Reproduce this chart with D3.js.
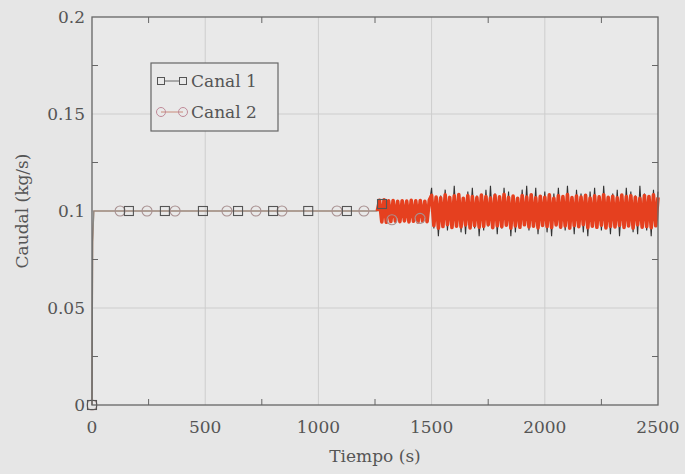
<!DOCTYPE html>
<html lang="es">
  <head>
    <meta charset="utf-8">
    <title>Caudal por canal</title>
    <script type="text/javascript" src="https://d3js.org/d3.v7.min.js"></script>
    <style>
      body { margin: 0; background: #e6e6e6; }
      text { font-family: "DejaVu Serif", serif; fill: #555; }
    </style>
  </head>
  <body>
    <script type="text/javascript">
      // tick values
      var xTicks = [0, 500, 1000, 1500, 2000, 2500];
      var xMinor = [250, 750, 1250, 1750, 2250];
      var yTicks = [0, 0.05, 0.1, 0.15, 0.2];
      var yMinor = [0.025, 0.075, 0.125, 0.175];

      // stable part (variable step solver, sparse points)
      var c1Time = [0, 3, 8, 163, 322, 490, 645, 800, 955, 1126, 1260];
      var c1Flow = [0, 0.084, 0.1, 0.1, 0.1, 0.1, 0.1, 0.1, 0.1, 0.1, 0.1];
      var c2Time = [0, 3, 8, 124, 243, 367, 596, 724, 839, 1082, 1201, 1260];
      var c2Flow = [0, 0.084, 0.1, 0.1, 0.1, 0.1, 0.1, 0.1, 0.1, 0.1, 0.1, 0.1];

      // markers
      var c1MarkTime = [0, 163, 322, 490, 645, 800, 955, 1126, 1281];
      var c1MarkFlow = [0, 0.1, 0.1, 0.1, 0.1, 0.1, 0.1, 0.1, 0.1036];
      var c2MarkTime = [0, 124, 243, 367, 596, 724, 839, 1082, 1201, 1325, 1449];
      var c2MarkFlow = [0, 0.1, 0.1, 0.1, 0.1, 0.1, 0.1, 0.1, 0.1, 0.0955, 0.0962];

      // oscillating part, one sample every 10 s from 1270 s
      var noiseStart = 1270, noiseStep = 10;
      var c1Noise = [
        0.1036, 0.0968, 0.1032, 0.0962, 0.1038, 0.0966, 0.1040, 0.0961, 0.1034, 0.0963,
        0.1039, 0.0960, 0.1035, 0.0962, 0.1041, 0.0959, 0.1037, 0.0964, 0.1042, 0.0958,
        0.1036, 0.0961, 0.1040,
        0.1120, 0.0910, 0.1070, 0.0870, 0.1080, 0.0940, 0.1110, 0.0900, 0.1060, 0.0920,
        0.1130, 0.0930, 0.1090, 0.0890, 0.1070, 0.0880, 0.1100, 0.0940, 0.1120, 0.0910,
        0.1080, 0.0870, 0.1060, 0.0900, 0.1110, 0.0920, 0.1130, 0.0930, 0.1090, 0.0880,
        0.1070, 0.0910, 0.1120, 0.0940, 0.1100, 0.0870, 0.1080, 0.0890, 0.1060, 0.0910,
        0.1110, 0.0930, 0.1130, 0.0900, 0.1080, 0.0940, 0.1120, 0.0880, 0.1070, 0.0920,
        0.1100, 0.0890, 0.1060, 0.0870, 0.1090, 0.0930, 0.1120, 0.0910, 0.1080, 0.0900,
        0.1130, 0.0940, 0.1070, 0.0880, 0.1110, 0.0920, 0.1090, 0.0890, 0.1060, 0.0870,
        0.1100, 0.0930, 0.1120, 0.0910, 0.1080, 0.0900, 0.1130, 0.0940, 0.1070, 0.0880,
        0.1090, 0.0920, 0.1110, 0.0870, 0.1060, 0.0910, 0.1120, 0.0930, 0.1100, 0.0890,
        0.1080, 0.0880, 0.1130, 0.0940, 0.1090, 0.0900, 0.1070, 0.0870, 0.1110, 0.0920,
        0.1100
      ];
      var c2Noise = [
        0.1055, 0.0944, 0.1058, 0.0942, 0.1052, 0.0946, 0.1054, 0.0948, 0.1050, 0.0945,
        0.1053, 0.0949, 0.1051, 0.0944, 0.1055, 0.0947, 0.1052, 0.0943, 0.1054, 0.0948,
        0.1050, 0.0945, 0.1056,
        0.1080, 0.0925, 0.1072, 0.0912, 0.1068, 0.0920, 0.1083, 0.0930, 0.1070, 0.0915,
        0.1078, 0.0922, 0.1085, 0.0918, 0.1066, 0.0928, 0.1079, 0.0913, 0.1074, 0.0925,
        0.1069, 0.0917, 0.1082, 0.0921, 0.1075, 0.0930, 0.1067, 0.0914, 0.1081, 0.0924,
        0.1073, 0.0919, 0.1086, 0.0927, 0.1070, 0.0912, 0.1077, 0.0923, 0.1065, 0.0916,
        0.1080, 0.0929, 0.1072, 0.0918, 0.1084, 0.0922, 0.1068, 0.0913, 0.1076, 0.0926,
        0.1071, 0.0920, 0.1083, 0.0915, 0.1066, 0.0928, 0.1079, 0.0917, 0.1074, 0.0923,
        0.1085, 0.0912, 0.1069, 0.0925, 0.1077, 0.0919, 0.1072, 0.0930, 0.1081, 0.0914,
        0.1067, 0.0922, 0.1078, 0.0916, 0.1073, 0.0927, 0.1084, 0.0913, 0.1070, 0.0921,
        0.1076, 0.0918, 0.1068, 0.0926, 0.1082, 0.0915, 0.1074, 0.0923, 0.1079, 0.0912,
        0.1071, 0.0929, 0.1065, 0.0917, 0.1080, 0.0920, 0.1075, 0.0914, 0.1083, 0.0924,
        0.1070
      ];

      var w = 685;
      var h = 474;
      var black = "#333";
      var red = "#e5401f";

      var svg = d3.select("body")
        .append("svg")
        .attr("width", w)
        .attr("height", h);

      var xScale = d3.scaleLinear().domain([0, 2500]).range([92, 658]);
      var yScale = d3.scaleLinear().domain([0, 0.2]).range([405, 17]);

      // plot area
      svg.append("rect")
        .attr("x", xScale(0)).attr("y", yScale(0.2))
        .attr("width", xScale(2500) - xScale(0))
        .attr("height", yScale(0) - yScale(0.2))
        .attr("fill", "#e9e9e9");

      // grid
      svg.append("g").selectAll("line")
        .data(xTicks.slice(1, -1))
        .enter().append("line")
        .attr("x1", function(d) { return xScale(d); })
        .attr("x2", function(d) { return xScale(d); })
        .attr("y1", yScale(0)).attr("y2", yScale(0.2))
        .attr("stroke", "#cdcdcd");
      svg.append("g").selectAll("line")
        .data(yTicks.slice(1, -1))
        .enter().append("line")
        .attr("y1", function(d) { return yScale(d); })
        .attr("y2", function(d) { return yScale(d); })
        .attr("x1", xScale(0)).attr("x2", xScale(2500))
        .attr("stroke", "#cdcdcd");

      var line = d3.line()
        .x(function(d) { return xScale(d[0]); })
        .y(function(d) { return yScale(d[1]); });

      var c1Stable = c1Time.map(function(t, i) { return [t, c1Flow[i]]; });
      var c2Stable = c2Time.map(function(t, i) { return [t, c2Flow[i]]; });
      var c1Osc = [[1260, 0.1]].concat(c1Noise.map(function(v, i) { return [noiseStart + i * noiseStep, v]; }));
      var c2Osc = [[1260, 0.1]].concat(c2Noise.map(function(v, i) { return [noiseStart + i * noiseStep, v]; }));

      svg.append("path").datum(c2Stable).attr("d", line)
        .attr("fill", "none").attr("stroke", "#c98a6a").attr("stroke-width", 1.2);
      svg.append("path").datum(c1Stable).attr("d", line)
        .attr("fill", "none").attr("stroke", "#8a8a86").attr("stroke-width", 1.2);

      svg.append("path").datum(c1Osc).attr("d", line)
        .attr("fill", "none").attr("stroke", black).attr("stroke-width", 1.1);
      svg.append("path").datum(c2Osc).attr("d", line)
        .attr("fill", "none").attr("stroke", red).attr("stroke-width", 3.6)
        .attr("stroke-linejoin", "round");

      // markers
      svg.append("g").selectAll("circle")
        .data(c2MarkTime)
        .enter().append("circle")
        .attr("cx", function(d) { return xScale(d); })
        .attr("cy", function(d, i) { return yScale(c2MarkFlow[i]); })
        .attr("r", 5)
        .attr("fill", "none")
        .attr("stroke", "#a89090")
        .attr("stroke-width", 1.1);
      svg.append("g").selectAll("rect")
        .data(c1MarkTime)
        .enter().append("rect")
        .attr("x", function(d) { return xScale(d) - 4.5; })
        .attr("y", function(d, i) { return yScale(c1MarkFlow[i]) - 4.5; })
        .attr("width", 9).attr("height", 9)
        .attr("fill", "none")
        .attr("stroke", "#555")
        .attr("stroke-width", 1.1);

      // axis box
      svg.append("rect")
        .attr("x", xScale(0)).attr("y", yScale(0.2))
        .attr("width", xScale(2500) - xScale(0))
        .attr("height", yScale(0) - yScale(0.2))
        .attr("fill", "none")
        .attr("stroke", "#666")
        .attr("stroke-width", 1.3);

      // minor ticks on all four sides
      var ticks = svg.append("g").attr("stroke", "#666");
      xMinor.forEach(function(d) {
        ticks.append("line").attr("x1", xScale(d)).attr("x2", xScale(d))
          .attr("y1", yScale(0)).attr("y2", yScale(0) - 6);
        ticks.append("line").attr("x1", xScale(d)).attr("x2", xScale(d))
          .attr("y1", yScale(0.2)).attr("y2", yScale(0.2) + 6);
      });
      yMinor.forEach(function(d) {
        ticks.append("line").attr("y1", yScale(d)).attr("y2", yScale(d))
          .attr("x1", xScale(0)).attr("x2", xScale(0) + 6);
        ticks.append("line").attr("y1", yScale(d)).attr("y2", yScale(d))
          .attr("x1", xScale(2500)).attr("x2", xScale(2500) - 6);
      });

      // tick labels
      svg.append("g").selectAll("text")
        .data(xTicks)
        .enter().append("text")
        .attr("x", function(d) { return xScale(d); })
        .attr("y", 433)
        .attr("text-anchor", "middle")
        .attr("font-size", 17)
        .text(function(d) { return d; });
      svg.append("g").selectAll("text")
        .data(yTicks)
        .enter().append("text")
        .attr("x", 85)
        .attr("y", function(d) { return yScale(d) + 6; })
        .attr("text-anchor", "end")
        .attr("font-size", 17)
        .text(function(d) { return d; });

      // axis titles
      svg.append("text")
        .attr("x", 375).attr("y", 462)
        .attr("text-anchor", "middle")
        .attr("font-size", 17)
        .text("Tiempo (s)");
      svg.append("text")
        .attr("transform", "translate(28,211) rotate(-90)")
        .attr("text-anchor", "middle")
        .attr("font-size", 17)
        .text("Caudal (kg/s)");

      // legend
      var legend = svg.append("g");
      legend.append("rect")
        .attr("x", 151).attr("y", 63)
        .attr("width", 127).attr("height", 68)
        .attr("fill", "#e9e9e9")
        .attr("stroke", "#666")
        .attr("stroke-width", 1.2);
      legend.append("line").attr("x1", 161).attr("x2", 183).attr("y1", 81).attr("y2", 81)
        .attr("stroke", "#666");
      [161, 183].forEach(function(x) {
        legend.append("rect").attr("x", x - 3.5).attr("y", 77.5).attr("width", 7).attr("height", 7)
          .attr("fill", "#e9e9e9").attr("stroke", "#555");
      });
      legend.append("line").attr("x1", 161).attr("x2", 183).attr("y1", 112).attr("y2", 112)
        .attr("stroke", "#c98a7a");
      [161, 183].forEach(function(x) {
        legend.append("circle").attr("cx", x).attr("cy", 112).attr("r", 4.5)
          .attr("fill", "none").attr("stroke", "#c08a98");
      });
      legend.append("text").attr("x", 191).attr("y", 87).attr("font-size", 17).text("Canal 1");
      legend.append("text").attr("x", 191).attr("y", 118).attr("font-size", 17).text("Canal 2");
    </script>
  </body>
</html>
